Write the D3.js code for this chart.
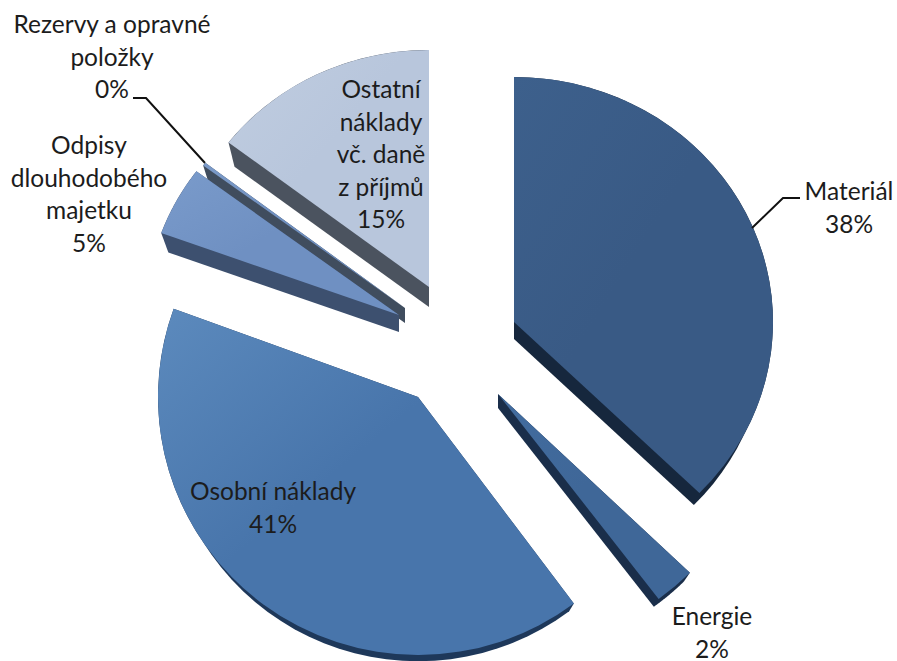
<!DOCTYPE html>
<html>
<head>
<meta charset="utf-8">
<title>Struktura nákladů</title>
<style>
html, body { margin: 0; padding: 0; background: #fff; }
svg { display: block; }
text { font-family: Lato, "Open Sans", sans-serif; font-size: 24.5px; fill: #1c1c1c; text-anchor: middle; }
</style>
<script src="https://d3js.org/d3.v7.min.js"></script>
</head>
<body>
<div id="chart"></div>
<script>
// values (slice sweep), printed percentages kept apart because they are rounded
var categories = ["Materiál", "Energie", "Osobní náklady", "Odpisy dlouhodobého majetku", "Rezervy a opravné položky", "Ostatní náklady vč. daně z příjmů"];
var shares = [37.3, 2.47, 40.78, 4.67, 0.22, 14.56];
var printed = ["38%", "2%", "41%", "5%", "0%", "15%"];

// how each category label is broken over lines
var labelLines = [
    ["Materiál"],
    ["Energie"],
    ["Osobní náklady"],
    ["Odpisy", "dlouhodobého", "majetku"],
    ["Rezervy a opravné", "položky"],
    ["Ostatní", "náklady", "vč. daně", "z příjmů"]
];

// exploded 3D look: every slice has its own pull-out and perspective size
var pull = [[514, 322], [498, 394], [418, 397], [399, 315], [405, 308], [429, 287]];
var radii = [[259, 245], [268, 256], [260, 258], [253, 240], [252, 238], [253, 237]];
var depth = [17, 14, 14, 17, 15, 20];
var topA = ["#3d608c", "#426c9f", "#5c8abd", "#7a9bcb", "#7b9ac8", "#c0cde0"];
var topB = ["#395a85", "#3f6798", "#4875ab", "#6f90c2", "#6f8fbf", "#b8c6dc"];
var wall = ["#16273d", "#1a2e4a", "#1e385a", "#3d506f", "#404d5e", "#4b535f"];
var drawOrder = [5, 4, 3, 0, 2, 1];
var shrink = 0.97; // bottom face is slightly smaller

var labelX = [849, 712, 273, 89, 112, 381];
var labelY = [200, 625, 500, 154, 33, 98];
var lineStep = 32.5;

var width = 897, height = 661, R = 100;

var svg = d3.select("#chart").append("svg")
    .attr("width", width)
    .attr("height", height);

var defs = svg.append("defs");
shares.forEach(function (d, i) {
    var g = defs.append("linearGradient")
        .attr("id", "face" + i)
        .attr("x1", "0").attr("y1", "0").attr("x2", "1").attr("y2", "1");
    g.append("stop").attr("offset", "0").attr("stop-color", topA[i]);
    g.append("stop").attr("offset", "0.45").attr("stop-color", topB[i]);
    g.append("stop").attr("offset", "1").attr("stop-color", topB[i]);
});

var pie = d3.pie().sort(null).value(function (d) { return d; });
var arcs = pie(shares);
var arc = d3.arc().innerRadius(0).outerRadius(R);

// outline points of one face of a slice
function facePoints(i, scale, dy) {
    var a = d3.scaleLinear().domain([0, 40]).range([arcs[i].startAngle, arcs[i].endAngle]);
    var pts = [[pull[i][0], pull[i][1] + dy]];
    d3.range(0, 41).forEach(function (k) {
        pts.push([
            pull[i][0] + radii[i][0] * scale * Math.sin(a(k)),
            pull[i][1] + dy - radii[i][1] * scale * Math.cos(a(k))
        ]);
    });
    return pts;
}

drawOrder.forEach(function (i) {
    var g = svg.append("g").attr("class", "slice");

    // wall: hull of the top face and the smaller bottom face, slices are all under 180 degrees
    var hull = d3.polygonHull(facePoints(i, 1, 0).concat(facePoints(i, shrink, depth[i])));
    g.append("path")
        .attr("d", d3.line()(hull) + "Z")
        .attr("fill", wall[i]);

    g.append("path")
        .attr("d", arc(arcs[i]))
        .attr("fill", "url(#face" + i + ")")
        .attr("transform", "translate(" + pull[i][0] + "," + pull[i][1] + ") scale(" + (radii[i][0] / R) + "," + (radii[i][1] / R) + ")");
});

// leader lines for the two labels that sit away from their slice
var leader = d3.line();
var leaders = [
    [[752, 228], [783, 198], [800, 198]],
    [[133, 98], [146, 98], [205, 163]]
];
svg.selectAll("path.leader")
    .data(leaders)
    .enter()
    .append("path")
    .attr("class", "leader")
    .attr("d", leader)
    .attr("fill", "none")
    .attr("stroke", "#111")
    .attr("stroke-width", 2);

// labels
categories.forEach(function (c, i) {
    var t = svg.append("text").attr("data-category", c);
    labelLines[i].concat([printed[i]]).forEach(function (line, j) {
        t.append("tspan")
            .attr("x", labelX[i])
            .attr("y", labelY[i] + j * lineStep)
            .text(line);
    });
});
</script>
</body>
</html>
